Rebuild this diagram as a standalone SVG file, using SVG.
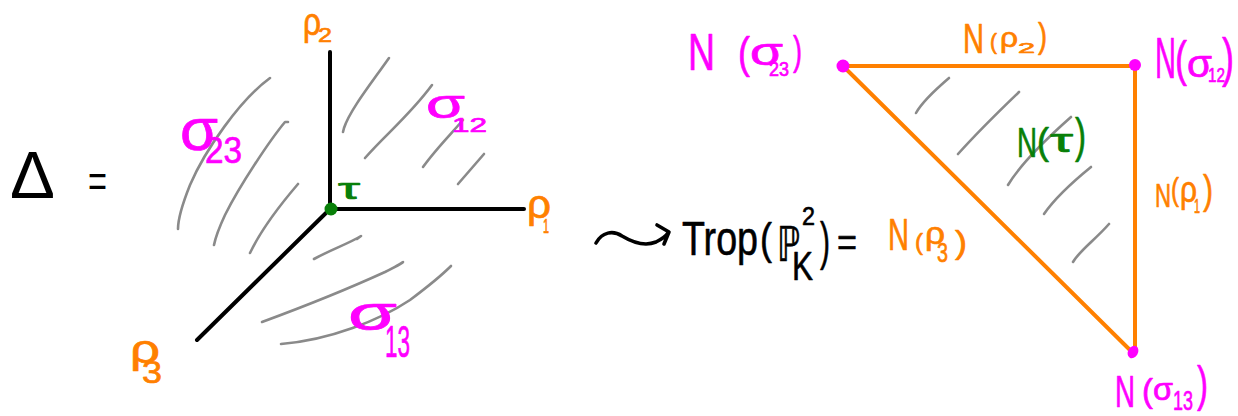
<svg xmlns="http://www.w3.org/2000/svg" width="1238" height="416" viewBox="0 0 1238 416">
<style>
text{font-family:"Liberation Sans","DejaVu Sans",sans-serif;stroke-width:0.7;stroke-linejoin:round}
.k{fill:#000;stroke:#000}
.o{fill:#ff8000;stroke:#ff8000}
.m{fill:#ff00ff;stroke:#ff00ff}
.g{fill:#087f08;stroke:#087f08}
circle.m,ellipse.m,circle.g{stroke:none}
.blk{stroke:#000;stroke-width:4;fill:none;stroke-linecap:round}
.orl{stroke:#ff8000;stroke-width:4;fill:none;stroke-linecap:round}
.hatch{stroke:#8a8a8a;stroke-width:2.6;fill:none;stroke-linecap:round;stroke-linejoin:round}
.pen{stroke:#000;stroke-width:3.6;fill:none;stroke-linecap:round;stroke-linejoin:round}
</style>
<rect width="1238" height="416" fill="#fff"/>

<g id="hatching">
<path class="hatch" d="M270,78 C240,100 205,150 190,185 C182,205 178,220 178,229"/>
<path class="hatch" d="M288,122 L285,122 C270,140 240,185 225,215 C218,230 215,240 214,245"/>
<path class="hatch" d="M298,184 C280,205 260,232 250,253"/>
<path class="hatch" d="M389,58 C370,85 350,110 344,128 L343,132"/>
<path class="hatch" d="M432,85 C410,115 385,135 365,158"/>
<path class="hatch" d="M463,120 C450,135 435,150 423,167"/>
<path class="hatch" d="M484,154 L458,184"/>
<path class="hatch" d="M314,259 C330,250 350,243 361,236 L357,239"/>
<path class="hatch" d="M262,322 C300,308 350,288 385,272 C395,267 402,263 403,262 L398,265"/>
<path class="hatch" d="M281,344 C330,340 380,320 410,300 C430,285 445,272 451,266"/>
<path class="hatch" d="M949,78 C935,90 922,102 916,113"/>
<path class="hatch" d="M1019,92 C995,115 975,135 958,154"/>
<path class="hatch" d="M1071,117 C1045,140 1020,165 1008,185"/>
<path class="hatch" d="M1091,167 C1075,180 1055,198 1044,214"/>
<path class="hatch" d="M1109,224 C1095,240 1080,250 1073,262"/>
</g>

<g id="connectors">
<path id="ray-rho2" class="blk" d="M330,52 V209"/>
<path id="ray-rho1" class="blk" d="M330,209 H524"/>
<path id="ray-rho3" class="blk" d="M330,209 L197,340"/>
<path id="edge-rho2" class="orl" d="M843,66 H1135"/>
<path id="edge-rho1" class="orl" d="M1135,66 V353"/>
<path id="edge-rho3" class="orl" d="M843,66 L1133,353"/>
<path id="squiggle-arrow" class="pen" d="M596,243 C602,232 613,230 622,236 C632,242 644,247 656,242 C662,239 666,236 668,233 M657,225 L669,232 L664,244"/>
</g>

<g id="delta-eq">
<text class="k" style="stroke-width:0"><tspan x="10" y="198" font-size="67" textLength="45" lengthAdjust="spacingAndGlyphs">Δ</tspan><tspan x="88" y="197" font-size="46" textLength="19" lengthAdjust="spacingAndGlyphs">=</tspan></text>
</g>

<g id="tau">
<circle class="g" cx="331" cy="209" r="6.5"/>
<text class="g"><tspan x="338" y="199" font-size="29" textLength="22" lengthAdjust="spacingAndGlyphs">τ</tspan></text>
</g>

<g id="rho2">
<text class="o"><tspan x="303" y="35" font-size="38" textLength="18" lengthAdjust="spacingAndGlyphs">ρ</tspan><tspan x="318" y="42" font-size="21" textLength="14" lengthAdjust="spacingAndGlyphs">2</tspan></text>
</g>
<g id="rho1">
<text class="o"><tspan x="527" y="218" font-size="40" textLength="24" lengthAdjust="spacingAndGlyphs">ρ</tspan><tspan x="543" y="233" font-size="20" textLength="6" lengthAdjust="spacingAndGlyphs">1</tspan></text>
</g>
<g id="rho3">
<text class="o"><tspan x="130" y="363" font-size="40" textLength="30" lengthAdjust="spacingAndGlyphs">ρ</tspan><tspan x="142" y="383" font-size="32" textLength="20" lengthAdjust="spacingAndGlyphs">3</tspan></text>
</g>

<g id="sigma23">
<text class="m"><tspan x="180" y="150" font-size="60" textLength="38" lengthAdjust="spacingAndGlyphs">σ</tspan><tspan x="205" y="163" font-size="36" textLength="37" lengthAdjust="spacingAndGlyphs">23</tspan></text>
</g>
<g id="sigma12">
<text class="m"><tspan x="426" y="118" font-size="40" textLength="39" lengthAdjust="spacingAndGlyphs">σ</tspan><tspan x="452" y="132" font-size="20" textLength="35" lengthAdjust="spacingAndGlyphs">12</tspan></text>
</g>
<g id="sigma13">
<text class="m"><tspan x="348" y="330" font-size="48" textLength="49" lengthAdjust="spacingAndGlyphs">σ</tspan><tspan x="385" y="357" font-size="44" textLength="25" lengthAdjust="spacingAndGlyphs">13</tspan></text>
</g>

<g id="trop">
<text class="k" style="stroke-width:0.6"><tspan x="682" y="255" font-size="48" textLength="76" lengthAdjust="spacingAndGlyphs">Trop</tspan><tspan x="760" y="254" font-size="44" textLength="12" lengthAdjust="spacingAndGlyphs">(</tspan><tspan x="777" y="261" font-size="48" textLength="23" lengthAdjust="spacingAndGlyphs">ℙ</tspan><tspan x="802" y="225" font-size="25" textLength="13" lengthAdjust="spacingAndGlyphs">2</tspan><tspan x="792" y="280" font-size="40" textLength="21" lengthAdjust="spacingAndGlyphs">K</tspan><tspan x="820" y="259" font-size="51" textLength="10" lengthAdjust="spacingAndGlyphs">)</tspan><tspan x="837" y="256" font-size="39" textLength="20" lengthAdjust="spacingAndGlyphs">=</tspan></text>
</g>

<g id="N-sigma23">
<circle class="m" cx="843" cy="66" r="6.5"/>
<text class="m"><tspan x="688" y="70" font-size="52" textLength="27" lengthAdjust="spacingAndGlyphs">N</tspan><tspan x="738" y="68" font-size="45" textLength="12" lengthAdjust="spacingAndGlyphs">(</tspan><tspan x="750" y="65" font-size="38" textLength="33" lengthAdjust="spacingAndGlyphs">σ</tspan><tspan x="769" y="76" font-size="20" textLength="20" lengthAdjust="spacingAndGlyphs">23</tspan><tspan x="793" y="65" font-size="41" textLength="9" lengthAdjust="spacingAndGlyphs">)</tspan></text>
</g>

<g id="N-sigma12">
<circle class="m" cx="1135" cy="65" r="6"/>
<text class="m"><tspan x="1155" y="78" font-size="57" textLength="21" lengthAdjust="spacingAndGlyphs">N</tspan><tspan x="1175" y="76" font-size="50" textLength="12" lengthAdjust="spacingAndGlyphs">(</tspan><tspan x="1187" y="77" font-size="38" textLength="25" lengthAdjust="spacingAndGlyphs">σ</tspan><tspan x="1208" y="82" font-size="21" textLength="17" lengthAdjust="spacingAndGlyphs">12</tspan><tspan x="1222" y="76" font-size="53" textLength="12" lengthAdjust="spacingAndGlyphs">)</tspan></text>
</g>

<g id="N-sigma13">
<ellipse class="m" cx="1133" cy="352" rx="5" ry="6.5" transform="rotate(30 1133 352)"/>
<text class="m"><tspan x="1115" y="407" font-size="45" textLength="20" lengthAdjust="spacingAndGlyphs">N</tspan><tspan x="1142" y="402" font-size="34" textLength="11" lengthAdjust="spacingAndGlyphs">(</tspan><tspan x="1153" y="400" font-size="31" textLength="20" lengthAdjust="spacingAndGlyphs">σ</tspan><tspan x="1173" y="410" font-size="28" textLength="20" lengthAdjust="spacingAndGlyphs">13</tspan><tspan x="1197" y="401" font-size="50" textLength="11" lengthAdjust="spacingAndGlyphs">)</tspan></text>
</g>

<g id="N-tau">
<text class="g"><tspan x="1017" y="157" font-size="42" textLength="20" lengthAdjust="spacingAndGlyphs">N</tspan><tspan x="1037" y="154" font-size="37" textLength="12" lengthAdjust="spacingAndGlyphs">(</tspan><tspan x="1050" y="152" font-size="33" textLength="23" lengthAdjust="spacingAndGlyphs">τ</tspan><tspan x="1075" y="152" font-size="48" textLength="11" lengthAdjust="spacingAndGlyphs">)</tspan></text>
</g>

<g id="N-rho2">
<text class="o"><tspan x="963" y="53" font-size="42" textLength="21" lengthAdjust="spacingAndGlyphs">N</tspan><tspan x="990" y="49" font-size="22" textLength="7" lengthAdjust="spacingAndGlyphs">(</tspan><tspan x="1000" y="47" font-size="27" textLength="18" lengthAdjust="spacingAndGlyphs">ρ</tspan><tspan x="1018" y="53" font-size="15" textLength="17" lengthAdjust="spacingAndGlyphs">2</tspan><tspan x="1038" y="48" font-size="35" textLength="9" lengthAdjust="spacingAndGlyphs">)</tspan></text>
</g>

<g id="N-rho1">
<text class="o"><tspan x="1155" y="207" font-size="34" textLength="16" lengthAdjust="spacingAndGlyphs">N</tspan><tspan x="1171" y="200" font-size="32" textLength="8" lengthAdjust="spacingAndGlyphs">(</tspan><tspan x="1180" y="202" font-size="37" textLength="17" lengthAdjust="spacingAndGlyphs">ρ</tspan><tspan x="1194" y="213" font-size="20" textLength="6" lengthAdjust="spacingAndGlyphs">1</tspan><tspan x="1203" y="204" font-size="40" textLength="10" lengthAdjust="spacingAndGlyphs">)</tspan></text>
</g>

<g id="N-rho3">
<text class="o"><tspan x="888" y="250" font-size="44" textLength="21" lengthAdjust="spacingAndGlyphs">N</tspan><tspan x="915" y="250" font-size="24" textLength="8" lengthAdjust="spacingAndGlyphs">(</tspan><tspan x="925" y="244" font-size="32" textLength="20" lengthAdjust="spacingAndGlyphs">ρ</tspan><tspan x="937" y="262" font-size="27" textLength="11" lengthAdjust="spacingAndGlyphs">3</tspan><tspan x="955" y="253" font-size="32" textLength="12" lengthAdjust="spacingAndGlyphs">)</tspan></text>
</g>
</svg>
